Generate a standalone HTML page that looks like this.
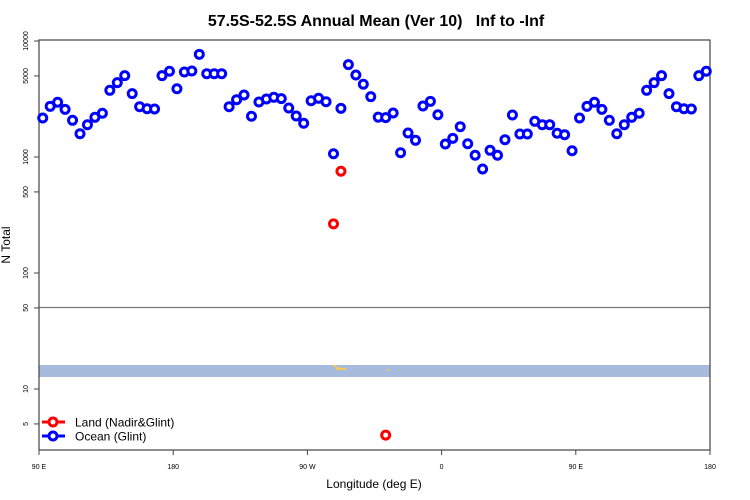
<!DOCTYPE html>
<html><head><meta charset="utf-8"><style>
html,body{margin:0;padding:0;background:#fff;}
svg{display:block;font-family:"Liberation Sans",sans-serif;}
</style></head><body>
<svg id="chart" width="750" height="500" viewBox="0 0 750 500">
<text x="376" y="26" text-anchor="middle" font-size="16" font-weight="bold" style="white-space:pre">57.5S-52.5S Annual Mean (Ver 10)&#160;&#160; Inf to -Inf</text>
<rect x="39" y="365" width="671" height="12" fill="#a7bcdc"/>
<g fill="#f5c85a"><rect x="333" y="365" width="3" height="2"/><rect x="336" y="367" width="4" height="3"/><rect x="340" y="368" width="6" height="2"/><rect x="387" y="369" width="2" height="2"/></g>
<line x1="39" y1="307.5" x2="710" y2="307.5" stroke="#777" stroke-width="1.2"/>
<rect x="39" y="40" width="671" height="410" fill="none" stroke="#444" stroke-width="1.2"/>
<g id="axes"></g>
<g id="marks"></g>
<text x="374" y="488" text-anchor="middle" font-size="12">Longitude (deg E)</text>
<text transform="translate(10,245) rotate(-90)" text-anchor="middle" font-size="12">N Total</text>
<g>
<g><line x1="42" y1="422" x2="65" y2="422" stroke="#f00" stroke-width="3"/><circle cx="53" cy="422" r="4" fill="#fff" stroke="#f00" stroke-width="3"/><text x="75" y="426.5" font-size="12">Land (Nadir&amp;Glint)</text></g>
<g><line x1="42" y1="436" x2="65" y2="436" stroke="#00f" stroke-width="3"/><circle cx="53" cy="436" r="4" fill="#fff" stroke="#00f" stroke-width="3"/><text x="75" y="440.5" font-size="12">Ocean (Glint)</text></g>
</g>
</svg>
<script>
const ocean=[2168,2735,2965,2576,2072,1588,1899,2199,2382,3758,4372,5024,3516,2714,2608,2594,5024,5483,3879,5405,5510,7676,5226,5226,5226,2714,3119,3422,2244,2979,3162,3270,3184,2644,2255,1953,3057,3206,2998,1067,2628,6252,5093,4235,3311,2204,2185,2395,1089,1610,1393,2754,3020,2315,1294,1449,1825,1302,1035,788,1142,1035,1410,2301,1578,1578,2031,1899,1899,1601,1557,1133,2168,2735,2965,2576,2072,1588,1899,2199,2382,3758,4372,5024,3516,2714,2608,2594,5024,5483];
const landIdx=[39,40,46];
const landVals=[265,753,4];
const yTicks=[5,10,50,100,500,1000,5000,10000];
const xTicks=[90,180,270,360,450,540];
const xTickLabels=["90 E","180","90 W","0","90 E","180"];
const NS="http://www.w3.org/2000/svg";
function xs(lon){return 39+(lon-90)*(671/450);}
function ys(v){return 389-116*(Math.log10(v)-1);}
function binLon(i){return 92.5+5*i;}
function mk(t,a,p){const e=document.createElementNS(NS,t);for(const k in a)e.setAttribute(k,a[k]);p.appendChild(e);return e;}
const ax=document.getElementById('axes'),mg=document.getElementById('marks');
yTicks.forEach(v=>{
 const g=mk('g',{},ax);
 
 
 mk('line',{x1:34,x2:39,y1:ys(v),y2:ys(v),stroke:'#444'},g);
 const t=mk('text',{transform:`translate(28,${ys(v)}) rotate(-90)`,'text-anchor':'middle','font-size':7},g);t.textContent=v;
});
xTicks.forEach((v,i)=>{
 const g=mk('g',{},ax);
 
 
 mk('line',{x1:xs(v),x2:xs(v),y1:450,y2:455,stroke:'#444'},g);
 const t=mk('text',{x:xs(v),y:469,'text-anchor':'middle','font-size':7},g);t.textContent=xTickLabels[i];
});
ocean.forEach((v,i)=>{
 const c=mk('circle',{cx:xs(binLon(i)),cy:ys(v),r:4,fill:'#fff',stroke:'#00f','stroke-width':3},mg);
 
 
});
landVals.forEach((v,i)=>{
 const c=mk('circle',{cx:xs(binLon(landIdx[i])),cy:ys(v),r:4,fill:'#fff',stroke:'#f00','stroke-width':3},mg);
 
 
});
</script>
</body></html>
